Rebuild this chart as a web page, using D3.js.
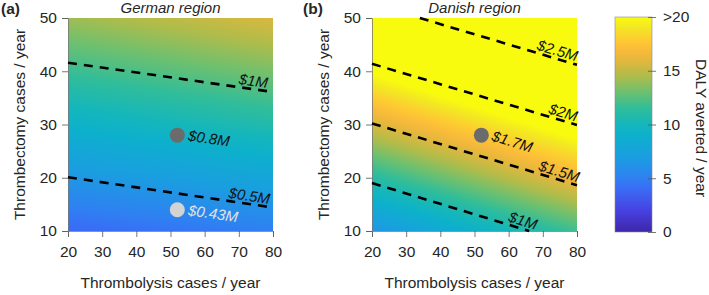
<!DOCTYPE html>
<html>
<head>
<meta charset="utf-8">
<script src="https://cdn.jsdelivr.net/npm/d3@7"></script>
<style>
  body { margin: 0; background: #fff; }
  text { font-family: "Liberation Sans", Arial, sans-serif; }
</style>
</head>
<body>
<div id="chart"></div>
<script>
// grid of DALY averted / year (rows = thrombectomy, cols = thrombolysis)
const thrombolysisGrid = [20, 35, 50, 65, 80];
const thrombectomyGrid = [10, 20, 30, 40, 50];

const dalyGerman = [
  [3.8, 4.1, 4.4, 4.7, 5.0],
  [6.5, 6.8, 7.1, 7.5, 7.8],
  [9.2, 9.6, 10.0, 10.4, 10.8],
  [11.7, 12.1, 12.5, 12.9, 13.3],
  [14.1, 14.5, 14.9, 15.3, 15.7]
];
const dalyDanish = [
  [6.3, 7.7, 9.1, 10.5, 11.9],
  [11.0, 12.4, 13.8, 15.2, 16.6],
  [15.6, 17.0, 18.4, 19.8, 21.2],
  [20.2, 21.6, 23.0, 24.4, 25.8],
  [24.8, 26.2, 27.6, 29.0, 30.4]
];

// cost iso-lines (end points in data units) and where their label sits
const costGerman = [
  { label: "$1M", pts: [[20, 41.6], [80, 36.1]], labelAt: 73.9 },
  { label: "$0.5M", pts: [[20, 20.1], [80, 14.4]], labelAt: 72.7 }
];
const costDanish = [
  { label: "$1M", pts: [[20, 19.0], [66, 10]], labelAt: 63.5 },
  { label: "$1.5M", pts: [[20, 30.2], [80, 18.6]], labelAt: 74.1 },
  { label: "$2M", pts: [[20, 41.4], [80, 29.9]], labelAt: 75.3 },
  { label: "$2.5M", pts: [[34, 50], [80, 41.2]], labelAt: 73.6 }
];

const scenarioGerman = [
  { x: 52, y: 28, label: "$0.8M", kind: "current" },
  { x: 52, y: 14, label: "$0.43M", kind: "low" }
];
const scenarioDanish = [
  { x: 52, y: 28, label: "$1.7M", kind: "current" }
];

const xTicks = [20, 30, 40, 50, 60, 70, 80];
const yTicks = [10, 20, 30, 40, 50];
const cbTicks = [0, 5, 10, 15, 20];
const cbTickLabels = ["0", "5", "10", "15", ">20"];

// parula-like colour map
const parulaPos = [0, 0.1, 0.2, 0.25, 0.35, 0.45, 0.5, 0.575, 0.65, 0.725, 0.8, 0.85, 0.9, 0.95, 1];
const parulaCol = ["#3e26a8", "#4741e2", "#3a6cf6", "#2f80f2", "#1a9ee0", "#0db0cc", "#14b6bc",
                   "#30bd9a", "#6cc070", "#b0bc4a", "#e4b73c", "#fbbb3a", "#fcce30", "#f3e624", "#f9fb0e"];

const W = 709, H = 295;
const textCol = "#262626";
const dotFill = { current: "#6b6b6b", low: "#d3d3d3" };
const dotText = { current: "#111", low: "#e2e2e2" };

const color = d3.scaleLinear()
  .domain(parulaPos.map(p => p * 20))
  .range(parulaCol)
  .interpolate(d3.interpolateRgb)
  .clamp(true);

const svg = d3.select("#chart").append("svg")
  .attr("width", W)
  .attr("height", H);

function bilinear(grid, xv, yv) {
  const xi = Math.max(0, Math.min(thrombolysisGrid.length - 2, d3.bisectRight(thrombolysisGrid, xv) - 1));
  const yi = Math.max(0, Math.min(thrombectomyGrid.length - 2, d3.bisectRight(thrombectomyGrid, yv) - 1));
  const x0 = thrombolysisGrid[xi], x1 = thrombolysisGrid[xi + 1];
  const y0 = thrombectomyGrid[yi], y1 = thrombectomyGrid[yi + 1];
  const tx = (xv - x0) / (x1 - x0), ty = (yv - y0) / (y1 - y0);
  const a = grid[yi][xi] * (1 - tx) + grid[yi][xi + 1] * tx;
  const b = grid[yi + 1][xi] * (1 - tx) + grid[yi + 1][xi + 1] * tx;
  return a * (1 - ty) + b * ty;
}

function drawPanel(opt) {
  const x = d3.scaleLinear().domain([20, 80]).range([opt.left, opt.left + 205]);
  const y = d3.scaleLinear().domain([10, 50]).range([231, 18]);
  const g = svg.append("g");

  // heat map through a canvas
  const pw = Math.round(x.range()[1] - x.range()[0]);
  const ph = Math.round(y.range()[0] - y.range()[1]);
  const canvas = document.createElement("canvas");
  canvas.width = pw; canvas.height = ph;
  const ctx = canvas.getContext("2d");
  const img = ctx.createImageData(pw, ph);
  for (let j = 0; j < ph; j++) {
    const yv = y.invert(y.range()[1] + j + 0.5);
    for (let i = 0; i < pw; i++) {
      const xv = x.invert(x.range()[0] + i + 0.5);
      const c = d3.rgb(color(bilinear(opt.data, xv, yv)));
      const k = (j * pw + i) * 4;
      img.data[k] = c.r; img.data[k + 1] = c.g; img.data[k + 2] = c.b; img.data[k + 3] = 255;
    }
  }
  ctx.putImageData(img, 0, 0);
  g.append("image")
    .attr("x", x.range()[0]).attr("y", y.range()[1])
    .attr("width", pw).attr("height", ph)
    .attr("preserveAspectRatio", "none")
    .attr("href", canvas.toDataURL());

  // axes
  const ax = g.append("g")
    .attr("transform", `translate(0,${y.range()[0]})`)
    .call(d3.axisBottom(x).tickValues(xTicks).tickSize(6).tickPadding(9));
  const ay = g.append("g")
    .attr("transform", `translate(${x.range()[0]},0)`)
    .call(d3.axisLeft(y).tickValues(yTicks).tickSize(6).tickPadding(5));
  [ax, ay].forEach(a => {
    a.selectAll("path").attr("stroke", "#777").attr("stroke-width", 0.8);
    a.selectAll("line").attr("stroke", "#555").attr("stroke-width", 0.8);
    a.selectAll("text").attr("fill", textCol).style("font-size", "15.5px")
      .style("font-family", '"Liberation Sans", Arial, sans-serif');
  });

  // cost lines
  const line = d3.line().x(d => x(d[0])).y(d => y(d[1]));
  let angle = 0;
  opt.cost.forEach((c, idx) => {
    g.append("path")
      .attr("d", line(c.pts))
      .attr("fill", "none")
      .attr("stroke", "#000")
      .attr("stroke-width", 2.6)
      .attr("stroke-dasharray", "9,7");
    const [p0, p1] = c.pts;
    const a = Math.atan2(y(p1[1]) - y(p0[1]), x(p1[0]) - x(p0[0])) * 180 / Math.PI;
    if (idx === 0) angle = a;
    const ly = p0[1] + (p1[1] - p0[1]) * (c.labelAt - p0[0]) / (p1[0] - p0[0]);
    g.append("text")
      .attr("transform", `translate(${x(c.labelAt)},${y(ly)}) rotate(${a})`)
      .attr("y", -3)
      .attr("text-anchor", "middle")
      .attr("font-style", "italic")
      .attr("fill", "#111")
      .style("font-size", "15px")
      .text(c.label);
  });

  // scenario points
  opt.points.forEach(p => {
    g.append("circle")
      .attr("cx", x(p.x)).attr("cy", y(p.y)).attr("r", 7.5)
      .attr("fill", dotFill[p.kind]);
    g.append("text")
      .attr("transform", `translate(${x(p.x) + 11},${y(p.y)}) rotate(${angle})`)
      .attr("y", 5.5)
      .attr("font-style", "italic")
      .attr("fill", dotText[p.kind])
      .style("font-size", "15px")
      .text(p.label);
  });

  // titles
  const cx = (x.range()[0] + x.range()[1]) / 2;
  svg.append("text").attr("x", cx).attr("y", 13).attr("text-anchor", "middle")
    .attr("font-style", "italic").attr("fill", textCol).style("font-size", "15px").text(opt.title);
  svg.append("text").attr("x", opt.tagX).attr("y", 14).attr("font-weight", "bold")
    .attr("fill", textCol).style("font-size", "15.5px").text(opt.tag);
  svg.append("text").attr("x", cx).attr("y", 288).attr("text-anchor", "middle")
    .attr("fill", textCol).style("font-size", "15.5px").text("Thrombolysis cases / year");
  svg.append("text")
    .attr("transform", `translate(${x.range()[0] - 43},${(y.range()[0] + y.range()[1]) / 2}) rotate(-90)`)
    .attr("text-anchor", "middle").attr("fill", textCol).style("font-size", "15.5px")
    .text("Thrombectomy cases / year");
}

drawPanel({ left: 68, data: dalyGerman, cost: costGerman, points: scenarioGerman,
            title: "German region", tag: "(a)", tagX: 1 });
drawPanel({ left: 372, data: dalyDanish, cost: costDanish, points: scenarioDanish,
            title: "Danish region", tag: "(b)", tagX: 303 });

// colour bar
const cbY = d3.scaleLinear().domain([0, 20]).range([232, 17]);
const grad = svg.append("defs").append("linearGradient")
  .attr("id", "cbgrad").attr("x1", 0).attr("x2", 0).attr("y1", 1).attr("y2", 0);
d3.range(0, 20.01, 0.5).forEach(v => {
  grad.append("stop").attr("offset", v / 20).attr("stop-color", color(v));
});
svg.append("rect")
  .attr("x", 615).attr("y", cbY(20))
  .attr("width", 37).attr("height", cbY(0) - cbY(20))
  .attr("fill", "url(#cbgrad)")
  .attr("stroke", "#8a8a8a").attr("stroke-width", 0.6);
const cbAxis = svg.append("g")
  .attr("transform", "translate(652,0)")
  .call(d3.axisRight(cbY).tickValues(cbTicks).tickSize(4).tickPadding(7)
    .tickFormat((d, i) => cbTickLabels[i]));
cbAxis.select("path").remove();
cbAxis.selectAll("line").attr("stroke", "#555").attr("x1", -4).attr("x2", 4).attr("stroke-width", 0.8);
cbAxis.selectAll("text").attr("fill", textCol).style("font-size", "15.5px")
  .style("font-family", '"Liberation Sans", Arial, sans-serif');
svg.append("text")
  .attr("transform", "translate(696,128) rotate(90)")
  .attr("text-anchor", "middle").attr("fill", textCol).style("font-size", "15.5px")
  .text("DALY averted / year");
</script>
</body>
</html>
